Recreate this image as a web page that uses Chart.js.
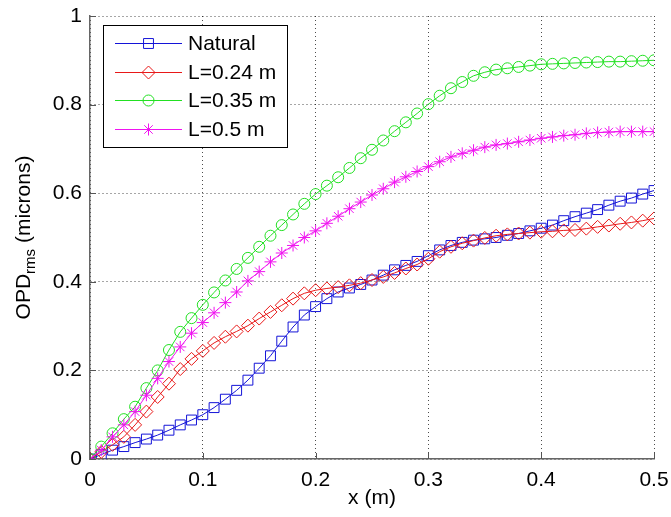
<!DOCTYPE html>
<html>
<head>
<meta charset="utf-8">
<script src="https://cdn.jsdelivr.net/npm/chart.js@4.4.0/dist/chart.umd.min.js"></script>
<style>
  html, body { margin: 0; padding: 0; background: #fff; }
  #wrap { width: 671px; height: 517px; }
</style>
</head>
<body>
<div id="wrap"><canvas id="opd-chart"></canvas></div>
<script>
// x positions (m)
const xs = [0, 0.01, 0.02, 0.03, 0.04, 0.05, 0.06, 0.07, 0.08, 0.09,
  0.10, 0.11, 0.12, 0.13, 0.14, 0.15, 0.16, 0.17, 0.18, 0.19,
  0.20, 0.21, 0.22, 0.23, 0.24, 0.25, 0.26, 0.27, 0.28, 0.29,
  0.30, 0.31, 0.32, 0.33, 0.34, 0.35, 0.36, 0.37, 0.38, 0.39,
  0.40, 0.41, 0.42, 0.43, 0.44, 0.45, 0.46, 0.47, 0.48, 0.49, 0.50];

// OPD rms (microns)
const natural = [0, 0.010, 0.020, 0.028, 0.037, 0.045, 0.054, 0.065, 0.077, 0.088,
  0.100, 0.116, 0.135, 0.155, 0.178, 0.205, 0.233, 0.266, 0.298, 0.325,
  0.344, 0.362, 0.377, 0.386, 0.394, 0.404, 0.415, 0.427, 0.437, 0.446,
  0.459, 0.472, 0.482, 0.489, 0.494, 0.497, 0.500, 0.505, 0.509, 0.515,
  0.521, 0.528, 0.538, 0.547, 0.555, 0.563, 0.573, 0.582, 0.589, 0.598, 0.606];

const l024 = [0, 0.016, 0.032, 0.050, 0.077, 0.107, 0.140, 0.170, 0.203, 0.226,
  0.244, 0.262, 0.276, 0.288, 0.301, 0.317, 0.332, 0.347, 0.362, 0.374,
  0.381, 0.385, 0.388, 0.392, 0.397, 0.404, 0.411, 0.420, 0.430, 0.439,
  0.452, 0.468, 0.479, 0.487, 0.493, 0.499, 0.504, 0.507, 0.509, 0.511,
  0.513, 0.514, 0.516, 0.517, 0.520, 0.524, 0.527, 0.531, 0.534, 0.538, 0.543];

const l035 = [0, 0.028, 0.058, 0.090, 0.118, 0.160, 0.200, 0.246, 0.287, 0.318,
  0.348, 0.376, 0.403, 0.429, 0.454, 0.479, 0.504, 0.528, 0.552, 0.576,
  0.598, 0.617, 0.636, 0.657, 0.679, 0.698, 0.719, 0.740, 0.760, 0.780,
  0.801, 0.820, 0.837, 0.851, 0.865, 0.873, 0.879, 0.882, 0.885, 0.888,
  0.891, 0.892, 0.893, 0.894, 0.895, 0.896, 0.897, 0.897, 0.898, 0.899, 0.900];

const l05 = [0, 0.020, 0.050, 0.077, 0.107, 0.144, 0.182, 0.220, 0.253, 0.284,
  0.308, 0.330, 0.353, 0.377, 0.402, 0.423, 0.445, 0.465, 0.482, 0.500,
  0.515, 0.532, 0.548, 0.565, 0.580, 0.596, 0.610, 0.625, 0.637, 0.649,
  0.660, 0.671, 0.682, 0.690, 0.697, 0.704, 0.709, 0.712, 0.716, 0.720,
  0.724, 0.727, 0.730, 0.732, 0.735, 0.737, 0.738, 0.739, 0.739, 0.739, 0.739];

const seriesNames = ['Natural', 'L=0.24 m', 'L=0.35 m', 'L=0.5 m'];
const xTickLabels = ['0', '0.1', '0.2', '0.3', '0.4', '0.5'];
const yTickLabels = ['0', '0.2', '0.4', '0.6', '0.8', '1'];

const FONT = "'Liberation Sans', Arial, sans-serif";

function pts(values) {
  return xs.map((x, i) => ({ x: x, y: values[i] }));
}

function series(label, values, color, style, radius, order) {
  return {
    label: label,
    data: pts(values),
    borderColor: color,
    backgroundColor: 'rgba(0,0,0,0)',
    borderWidth: 1,
    pointStyle: style,
    pointRadius: radius,
    pointBorderColor: color,
    pointBorderWidth: 1,
    pointBackgroundColor: 'rgba(0,0,0,0)',
    tension: 0,
    order: order
  };
}

// MATLAB style inward tick marks
const innerTicks = {
  id: 'innerTicks',
  afterDraw(chart) {
    const ctx = chart.ctx;
    const xs_ = chart.scales.x, ys_ = chart.scales.y;
    const a = chart.chartArea;
    ctx.save();
    ctx.strokeStyle = '#555';
    ctx.lineWidth = 1;
    ctx.beginPath();
    xs_.ticks.forEach(t => {
      const px = Math.round(xs_.getPixelForValue(t.value)) + 0.5;
      ctx.moveTo(px, a.bottom);
      ctx.lineTo(px, a.bottom - 6);
    });
    ys_.ticks.forEach(t => {
      const py = Math.round(ys_.getPixelForValue(t.value)) + 0.5;
      ctx.moveTo(a.left, py);
      ctx.lineTo(a.left + 6, py);
    });
    ctx.stroke();
    ctx.restore();
  }
};

// axis titles (y title needs a subscript)
const axisTitles = {
  id: 'axisTitles',
  afterDraw(chart) {
    const ctx = chart.ctx;
    const a = chart.chartArea;
    ctx.save();
    ctx.fillStyle = '#000';
    ctx.font = '21px ' + FONT;
    ctx.textAlign = 'center';
    ctx.textBaseline = 'middle';
    ctx.fillText('x (m)', (a.left + a.right) / 2, 498);

    ctx.translate(24, (a.top + a.bottom) / 2);
    ctx.rotate(-Math.PI / 2);
    ctx.textAlign = 'left';
    const mainFont = '21px ' + FONT;
    const subFont = '15px ' + FONT;
    ctx.font = mainFont;
    const w1 = ctx.measureText('OPD').width;
    const w3 = ctx.measureText(' (microns)').width;
    ctx.font = subFont;
    const w2 = ctx.measureText('rms').width;
    let x0 = -(w1 + w2 + w3) / 2;
    ctx.font = mainFont;
    ctx.fillText('OPD', x0, 0);
    ctx.font = subFont;
    ctx.fillText('rms', x0 + w1, 7);
    ctx.font = mainFont;
    ctx.fillText(' (microns)', x0 + w1 + w2, 0);
    ctx.restore();
  }
};

// legend with line + marker sample
const lineLegend = {
  id: 'lineLegend',
  afterDraw(chart) {
    const ctx = chart.ctx;
    const a = chart.chartArea;
    const bx = a.left + 13, by = a.top + 9, bw = 184, bh = 122;
    ctx.save();
    ctx.fillStyle = '#fff';
    ctx.fillRect(bx, by, bw, bh);
    ctx.strokeStyle = '#000';
    ctx.lineWidth = 1;
    ctx.strokeRect(bx + 0.5, by + 0.5, bw, bh);
    ctx.font = '21px ' + FONT;
    ctx.textBaseline = 'middle';
    ctx.textAlign = 'left';
    chart.data.datasets.forEach((ds, i) => {
      const cy = Math.round(by + 18 + i * 28.5) + 0.5;
      ctx.save();
      ctx.strokeStyle = ds.borderColor;
      ctx.lineWidth = 1;
      ctx.beginPath();
      ctx.moveTo(bx + 12, cy);
      ctx.lineTo(bx + 79, cy);
      ctx.stroke();
      ctx.fillStyle = 'rgba(255,255,255,0)';
      ctx.strokeStyle = ds.pointBorderColor;
      Chart.helpers.drawPoint(ctx, {
        pointStyle: ds.pointStyle,
        radius: ds.pointRadius,
        rotation: 0,
        borderWidth: 1
      }, bx + 45.5, cy);
      ctx.restore();
      ctx.fillStyle = '#000';
      ctx.fillText(seriesNames[i], bx + 85, cy + 1);
    });
    ctx.restore();
  }
};

new Chart(document.getElementById('opd-chart').getContext('2d'), {
  type: 'line',
  data: {
    datasets: [
      series(seriesNames[0], natural, '#1414d8', 'rect', 7, 4),
      series(seriesNames[1], l024, '#e81818', 'rectRot', 6.5, 3),
      series(seriesNames[2], l035, '#22e022', 'circle', 5.5, 2),
      series(seriesNames[3], l05, '#f014f0', 'star', 6, 1)
    ]
  },
  options: {
    responsive: true,
    maintainAspectRatio: false,
    animation: false,
    layout: { padding: { left: 0, right: 17, top: 16, bottom: 0 } },
    plugins: {
      legend: { display: false },
      tooltip: { enabled: false }
    },
    scales: {
      x: {
        type: 'linear',
        min: 0,
        max: 0.5,
        afterFit: s => {
          s.height = 58;
          s.paddingLeft = 0;
          s.paddingRight = 0;
        },
        ticks: {
          stepSize: 0.1,
          padding: 9,
          color: '#000',
          font: { family: FONT, size: 21 },
          maxRotation: 0,
          callback: (v, i) => xTickLabels[i]
        },
        grid: { color: 'rgba(0,0,0,0.7)', lineWidth: 1, drawTicks: false },
        border: { display: true, color: '#666', width: 1.5, dash: [1, 3] }
      },
      y: {
        min: 0,
        max: 1,
        afterFit: s => {
          s.width = 90;
          s.paddingTop = 0;
          s.paddingBottom = 0;
        },
        ticks: {
          stepSize: 0.2,
          padding: 8,
          color: '#000',
          font: { family: FONT, size: 21 },
          callback: (v, i) => yTickLabels[i]
        },
        grid: { color: 'rgba(0,0,0,0.7)', lineWidth: 1, drawTicks: false },
        border: { display: true, color: '#666', width: 1.5, dash: [1, 3] }
      }
    }
  },
  plugins: [innerTicks, axisTitles, lineLegend]
});
</script>
</body>
</html>
